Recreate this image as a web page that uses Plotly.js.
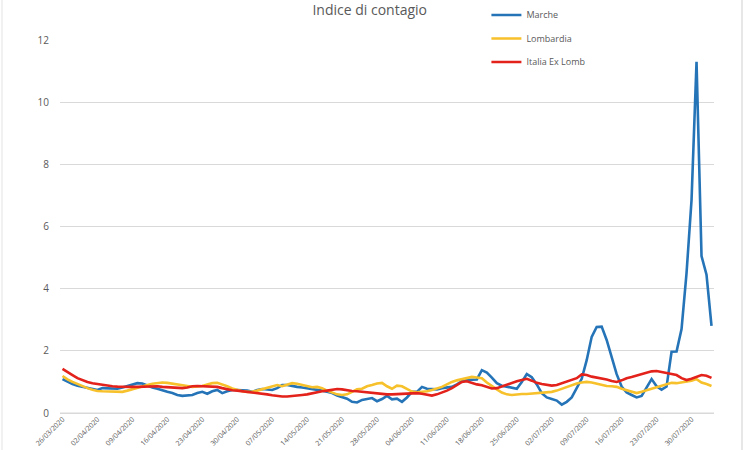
<!DOCTYPE html>
<html>
<head>
<meta charset="utf-8">
<script src="https://cdn.plot.ly/plotly-3.0.1.min.js"></script>
<style>html,body{margin:0;padding:0;background:#fff;}#chart{width:750px;height:450px;}</style>
</head>
<body>
<div id="chart"></div>
<script>
// Daily dates from 26/03/2020 to 03/08/2020
const startDate = "2020-03-26";
const nDays = 131;

const marche = [
1.09,1.00,0.93,0.88,0.84,0.80,0.76,0.74,0.80,0.80,
0.78,0.78,0.82,0.87,0.92,0.96,0.95,0.88,0.82,0.78,
0.72,0.68,0.64,0.58,0.55,0.56,0.58,0.64,0.68,0.62,
0.70,0.74,0.64,0.70,0.74,0.74,0.74,0.72,0.68,0.74,
0.77,0.76,0.74,0.80,0.90,0.90,0.86,0.84,0.82,0.80,
0.78,0.76,0.72,0.68,0.64,0.56,0.50,0.46,0.36,0.34,
0.42,0.46,0.48,0.38,0.45,0.55,0.44,0.46,0.36,0.50,
0.68,0.68,0.84,0.78,0.77,0.76,0.80,0.82,0.84,0.92,
1.02,1.06,1.06,1.08,1.38,1.30,1.14,0.96,0.88,0.85,
0.82,0.78,1.00,1.25,1.15,0.92,0.64,0.50,0.45,0.40,
0.27,0.36,0.50,0.80,1.10,1.70,2.45,2.77,2.78,2.35,
1.80,1.25,0.85,0.66,0.58,0.50,0.55,0.80,1.09,0.86,
0.75,0.85,1.97,1.98,2.70,4.50,6.85,11.30,5.05,4.45,
2.80];

const lombardia = [
1.19,1.08,1.00,0.93,0.85,0.80,0.75,0.71,0.70,0.69,
0.68,0.68,0.68,0.72,0.77,0.82,0.86,0.90,0.94,0.97,
0.98,0.97,0.95,0.93,0.90,0.87,0.84,0.85,0.87,0.92,
0.96,0.97,0.92,0.86,0.79,0.74,0.70,0.68,0.68,0.72,
0.76,0.80,0.86,0.90,0.86,0.90,0.96,0.94,0.90,0.86,
0.83,0.84,0.80,0.72,0.66,0.60,0.58,0.60,0.68,0.76,
0.78,0.86,0.90,0.95,0.97,0.86,0.78,0.88,0.86,0.78,
0.69,0.67,0.68,0.70,0.74,0.78,0.84,0.92,1.00,1.05,
1.09,1.12,1.16,1.14,1.12,0.98,0.86,0.76,0.66,0.60,
0.58,0.60,0.61,0.61,0.62,0.64,0.64,0.66,0.68,0.72,
0.78,0.84,0.90,0.95,0.98,1.00,0.98,0.94,0.90,0.87,
0.86,0.84,0.78,0.73,0.68,0.64,0.68,0.73,0.77,0.82,
0.87,0.92,0.97,0.96,0.98,1.00,1.04,1.09,0.98,0.93,
0.87];

const italiaExLomb = [
1.42,1.33,1.22,1.12,1.05,1.00,0.96,0.93,0.90,0.88,
0.86,0.85,0.84,0.84,0.84,0.84,0.85,0.86,0.87,0.86,
0.84,0.83,0.82,0.81,0.80,0.82,0.86,0.87,0.86,0.85,
0.84,0.84,0.80,0.76,0.73,0.72,0.70,0.69,0.68,0.66,
0.63,0.60,0.57,0.54,0.53,0.53,0.54,0.56,0.58,0.60,
0.64,0.67,0.70,0.72,0.75,0.77,0.76,0.73,0.71,0.70,
0.68,0.66,0.64,0.63,0.61,0.60,0.60,0.61,0.62,0.63,
0.64,0.64,0.62,0.58,0.56,0.60,0.65,0.72,0.80,0.90,
1.00,1.02,0.96,0.92,0.89,0.85,0.79,0.80,0.86,0.92,
0.97,1.02,1.06,1.10,1.04,0.97,0.93,0.90,0.88,0.90,
0.96,1.02,1.07,1.12,1.24,1.22,1.17,1.14,1.12,1.08,
1.03,1.00,1.05,1.12,1.16,1.21,1.26,1.30,1.34,1.35,
1.32,1.29,1.26,1.22,1.12,1.06,1.10,1.16,1.22,1.20,
1.13];

const seriesNames = ["Marche", "Lombardia", "Italia Ex Lomb"];
const seriesColors = ["#2574b8", "#f7c12b", "#e3221b"];

const tickDates = ["2020-03-26","2020-04-02","2020-04-09","2020-04-16","2020-04-23","2020-04-30",
"2020-05-07","2020-05-14","2020-05-21","2020-05-28","2020-06-04","2020-06-11","2020-06-18",
"2020-06-25","2020-07-02","2020-07-09","2020-07-16","2020-07-23","2020-07-30"];
const tickLabels = ["26/03/2020","02/04/2020","09/04/2020","16/04/2020","23/04/2020","30/04/2020",
"07/05/2020","14/05/2020","21/05/2020","28/05/2020","04/06/2020","11/06/2020","18/06/2020",
"25/06/2020","02/07/2020","09/07/2020","16/07/2020","23/07/2020","30/07/2020"];

const dates = [];
const d0 = new Date(startDate + "T00:00:00Z");
for (let i = 0; i < nDays; i++) {
  const d = new Date(d0.getTime() + i * 86400000);
  dates.push(d.toISOString().slice(0, 10));
}

const allSeries = [marche, lombardia, italiaExLomb];
const traces = allSeries.map((ys, i) => ({
  x: dates, y: ys, type: "scatter", mode: "lines",
  name: seriesNames[i], legendgroup: "g" + i,
  line: {color: seriesColors[i], width: 2.6}
}));

const txt = "#595959";
const grid = "#d9d9d9";
const layout = {
  width: 750, height: 450,
  margin: {l: 60, r: 36, t: 40, b: 37, pad: 0, autoexpand: false},
  paper_bgcolor: "#fff", plot_bgcolor: "#fff",
  font: {family: "Open Sans, Liberation Sans, sans-serif", color: txt},
  title: {text: "Indice di contagio", x: 0.493, xanchor: "center", y: 0.978, yanchor: "middle",
          yref: "container", font: {size: 14, color: txt}},
  showlegend: true,
  legend: {x: 0.652, xanchor: "left", y: 1.106, yanchor: "top", bgcolor: "rgba(0,0,0,0)",
           font: {size: 9, color: txt}, tracegroupgap: 4.5, traceorder: "grouped"},
  xaxis: {type: "date", range: ["2020-03-25 12:00", "2020-08-03 12:00"],
          tickmode: "array", tickvals: tickDates, ticktext: tickLabels,
          tickangle: -45, tickfont: {size: 7, color: txt}, showgrid: false,
          showline: false, zeroline: false, ticks: "", automargin: false, fixedrange: true},
  yaxis: {range: [0, 12], dtick: 2, tick0: 0, showgrid: true, gridcolor: grid, gridwidth: 1,
          zeroline: true, zerolinecolor: grid, zerolinewidth: 1, showline: false,
          ticks: "", tickfont: {size: 10, color: txt}, ticklabelstandoff: 10, automargin: false},
  shapes: [
    {type: "line", xref: "paper", yref: "paper", x0: 0, x1: 1, y0: 0, y1: 0, line: {color: grid, width: 1}},
    {type: "line", xref: "paper", yref: "paper", x0: -58/654, x1: -58/654, y0: -37/373, y1: 413/373,
     line: {color: "#e3e3e3", width: 1}},
    {type: "line", xref: "paper", yref: "paper", x0: 682/654, x1: 682/654, y0: -37/373, y1: 413/373,
     line: {color: "#cfcfcf", width: 1}}
  ]
};

Plotly.newPlot("chart", traces, layout, {staticPlot: true, displayModeBar: false});
</script>
</body>
</html>
